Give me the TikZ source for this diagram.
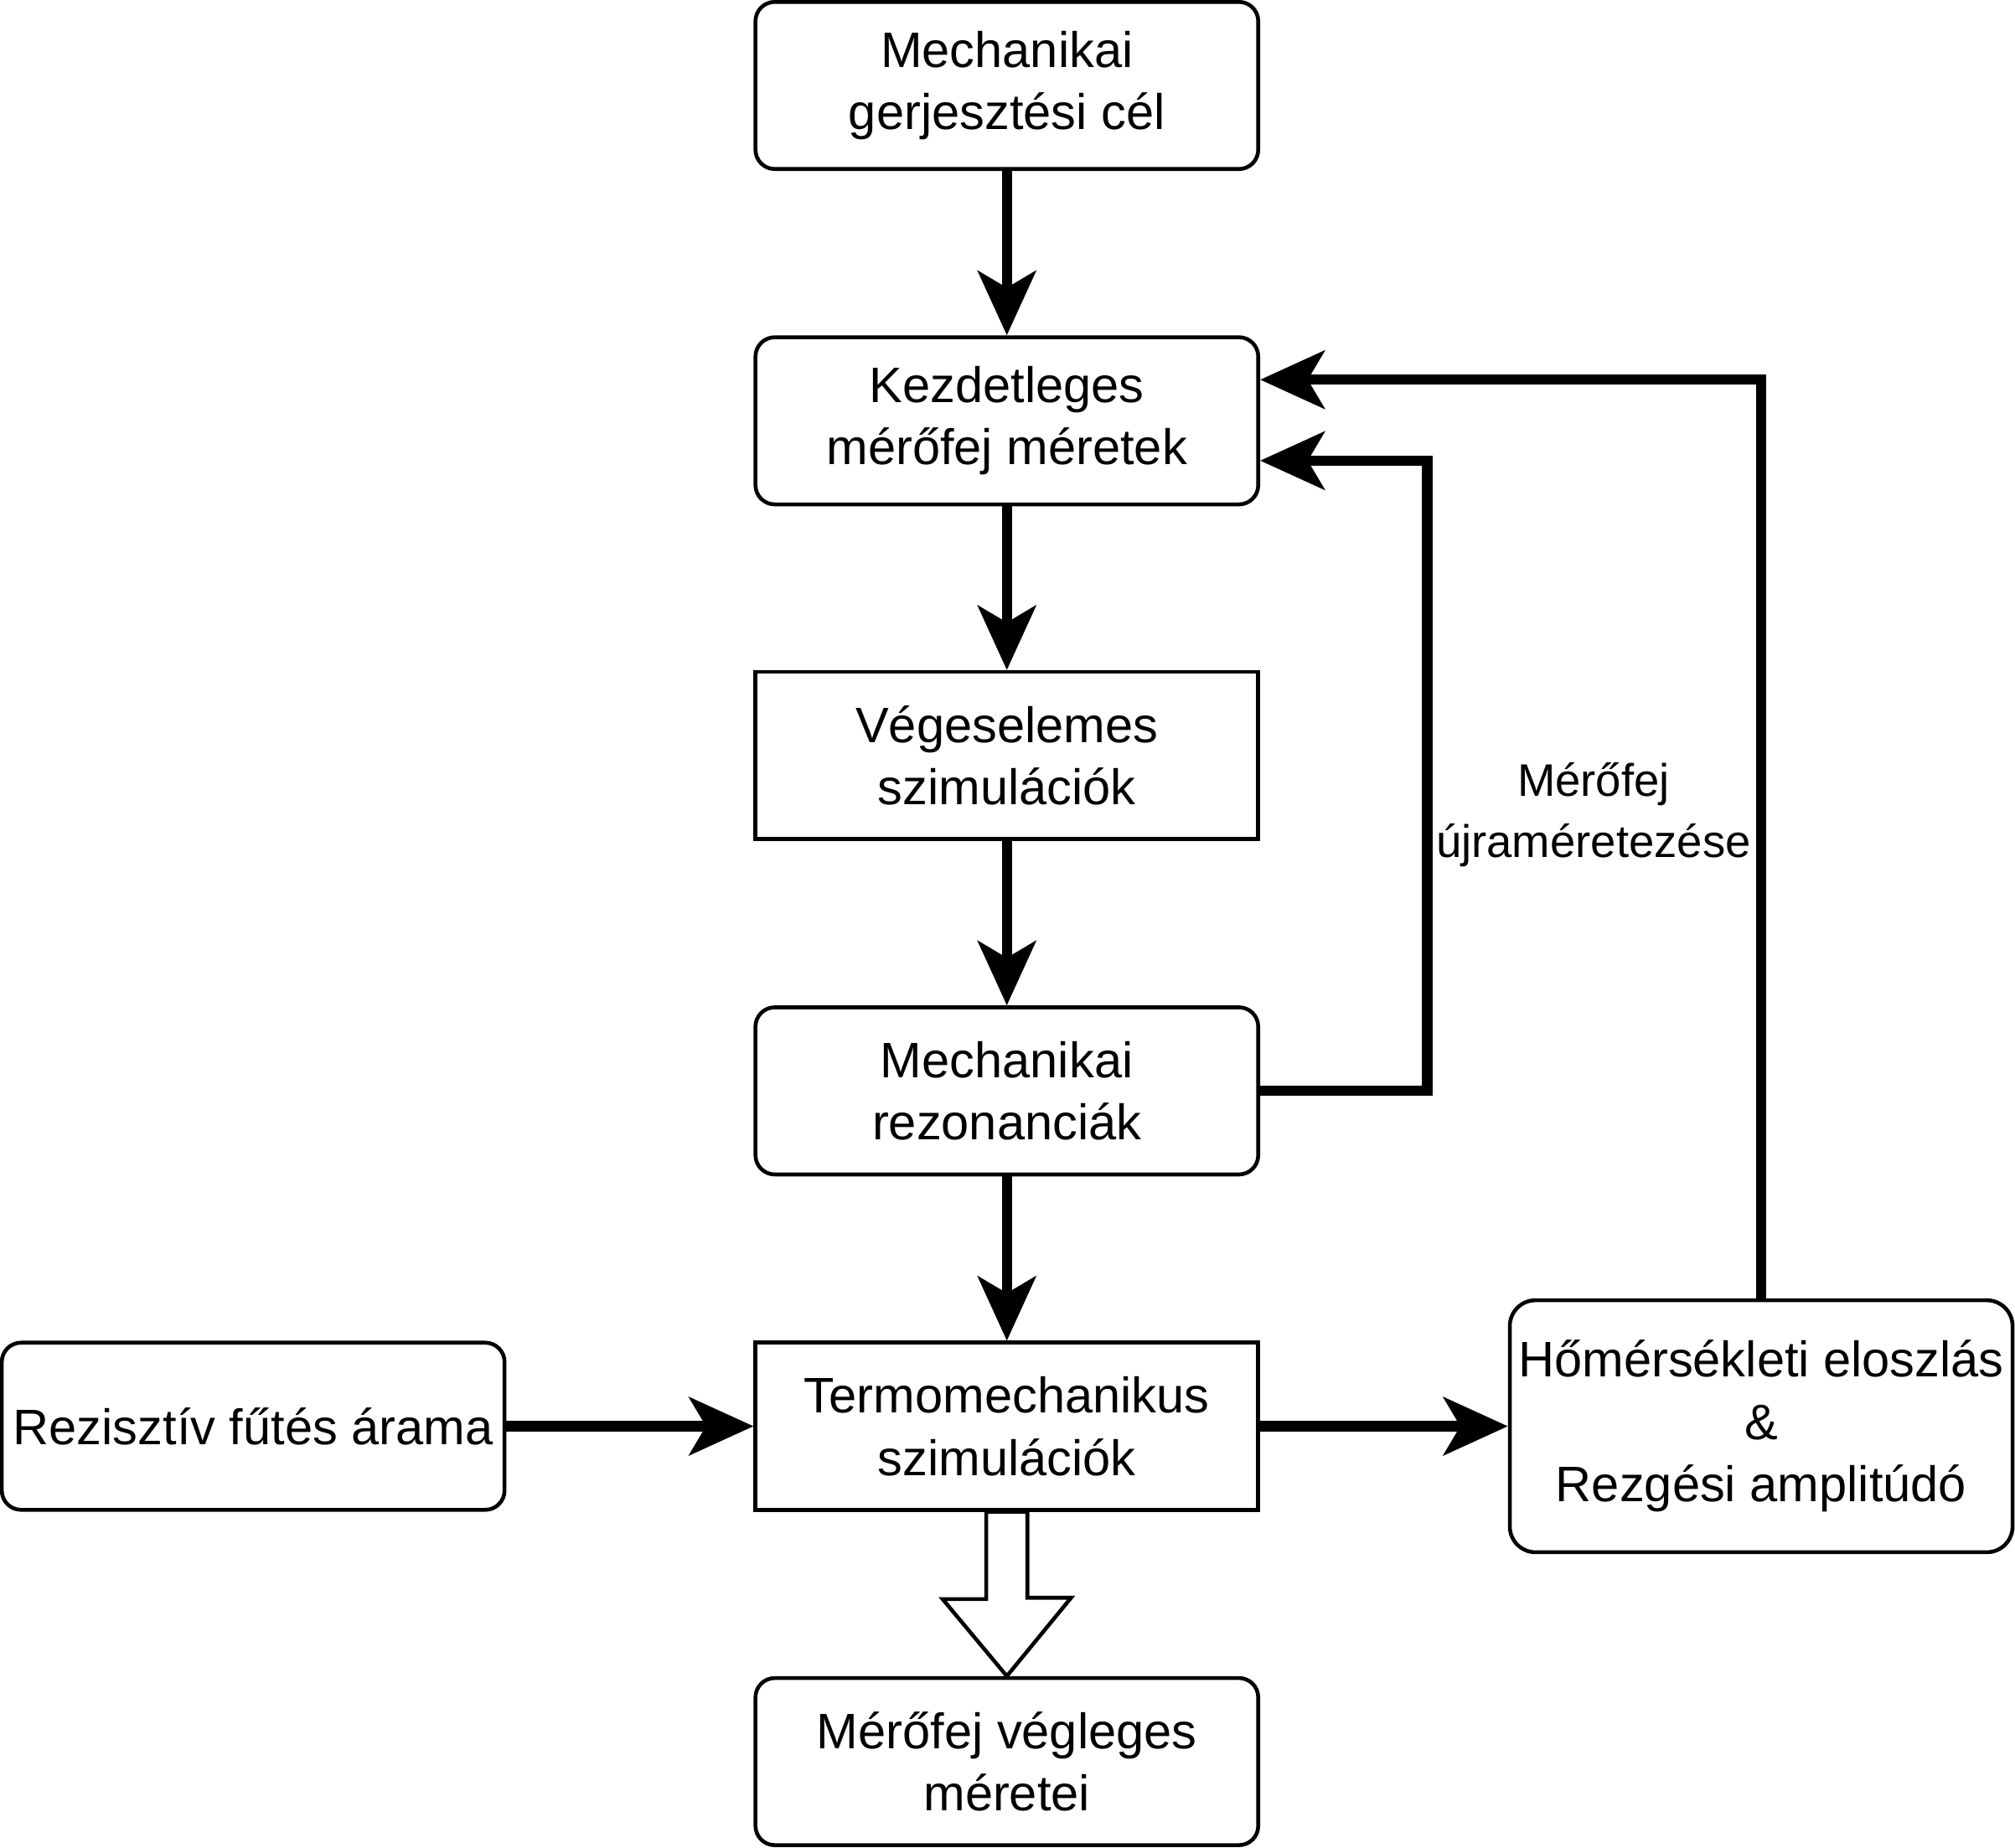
\documentclass[tikz,border=0pt]{standalone}
\usepackage{fontspec}
\setmainfont{Liberation Sans}
\usetikzlibrary{arrows.meta,calc}

\begin{document}
\begin{tikzpicture}[x=0.01cm,y=-0.01cm,
	caja/.style={draw,line width=0.85pt,minimum width=3.91cm,minimum height=1.30cm,align=center,inner sep=0pt,font=\fontsize{11.05pt}{13.8pt}\selectfont},
	cajar/.style={caja,rounded corners=0.15cm},
	flecha/.style={line width=2.3pt,-{Stealth[length=0.5cm,width=0.45cm,inset=0.13cm]}},
	hueca/.style={draw,fill=white,line width=0.85pt,line join=miter}]
		\useasboundingbox (0,0) rectangle (1568,1438);

		%Nodos
		\node [cajar] (nodo0) at (783.5,66.5) {Mechanikai\\gerjesztési cél};
		\node [cajar] (nodo1) at (783.5,327.5) {Kezdetleges\\mérőfej méretek};
		\node [caja] (nodo2) at (783.5,588) {Végeselemes\\szimulációk};
		\node [cajar] (nodo3) at (783.5,849) {Mechanikai\\rezonanciák};
		\node [caja] (nodo4) at (783.5,1110) {Termomechanikus\\szimulációk};
		\node [cajar] (nodo5) at (783.5,1371) {Mérőfej végleges\\méretei};
		\node [cajar] (nodo6) at (197,1110) {Rezisztív fűtés árama};
		\node [cajar,rounded corners=0.2cm,minimum height=1.96cm] (nodo7) at (1370.5,1110) {Hőmérsékleti eloszlás\\\&\\Rezgési amplitúdó};
		\node [align=center,font=\fontsize{10.1pt}{13.5pt}\selectfont] (etiq) at (1240,634) {Mérőfej\\újraméretezése};

		%Arcos
		\draw[flecha] (nodo0)--(nodo1);
		\draw[flecha] (nodo1)--(nodo2);
		\draw[flecha] (nodo2)--(nodo3);
		\draw[flecha] (nodo3)--(nodo4);
		\draw[flecha] (nodo6)--(nodo4);
		\draw[flecha] (nodo4)--(nodo7);
		\draw[flecha] (nodo3.east)--++(130,0)|-($(nodo1.east)+(0,31)$);
		\draw[flecha] (nodo7.north)|-($(nodo1.east)+(0,-32)$);
		\draw[hueca] ($(nodo4.south)+(-16,0)$)--++(0,68)--++(-34,0)--(nodo5.north)--++(50,-61)--++(-34,0)--($(nodo4.south)+(16,0)$)--cycle;
\end{tikzpicture}
\end{document}
